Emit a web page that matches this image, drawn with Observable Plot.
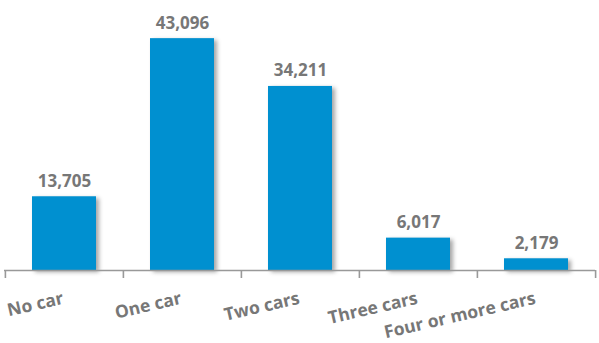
<!DOCTYPE html>
<html>
<head>
<meta charset="utf-8">
<script src="https://cdn.jsdelivr.net/npm/d3@7"></script>
<script src="https://cdn.jsdelivr.net/npm/@observablehq/plot@0.6"></script>
<style>
  html, body { margin: 0; padding: 0; background: #fff; }
  #chart svg { display: block; }
</style>
</head>
<body>
<div id="chart"></div>
<script>
const categories = ["No car", "One car", "Two cars", "Three cars", "Four or more cars"];
const values = [13705, 43096, 34211, 6017, 2179];

const data = categories.map((c, i) => ({ category: c, value: values[i] }));

const W = 599, H = 343, mL = 4, mR = 4, mT = 1, mB = 73;
const step = (W - mL - mR) / categories.length;
const gray = "#777";
const font = "'Open Sans', sans-serif";

const chart = Plot.plot({
  width: W,
  height: H,
  marginLeft: mL,
  marginRight: mR,
  marginTop: mT,
  marginBottom: mB,
  style: { fontFamily: font, background: "#fff", overflow: "visible" },
  x: { domain: categories, paddingInner: 0.46, paddingOuter: 0.23, axis: null },
  y: { domain: [0, 50000], axis: null },
  marks: [
    Plot.barY(data, { x: "category", y: "value", fill: "#0090d0" }),
    Plot.ruleY([0], { stroke: "#999", strokeWidth: 1.6 }),
    Plot.ruleX(categories, { x: d => d, y1: 0, y2: 0, dx: -step / 2, insetBottom: -8, stroke: "#999", strokeWidth: 1.6 }),
    Plot.ruleX(categories.slice(-1), { x: d => d, y1: 0, y2: 0, dx: step / 2, insetBottom: -8, stroke: "#999", strokeWidth: 1.6 }),
    Plot.text(data, {
      x: "category", y: "value", text: d => d3.format(",")(d.value),
      lineAnchor: "bottom", dy: -10, fill: gray, fontWeight: "bold", fontSize: 17
    }),
    Plot.text(data, {
      x: "category", y: 0, text: "category",
      textAnchor: "end", lineAnchor: "bottom", rotate: -13, dx: 0, dy: 33,
      fill: gray, fontWeight: "bold", fontSize: 17.5
    })
  ]
});

d3.select(chart).selectAll("g[aria-label='bar'] rect")
  .style("filter", "drop-shadow(3px 2px 2px rgba(0,0,0,0.35))");

document.getElementById("chart").appendChild(chart);
</script>
</body>
</html>
